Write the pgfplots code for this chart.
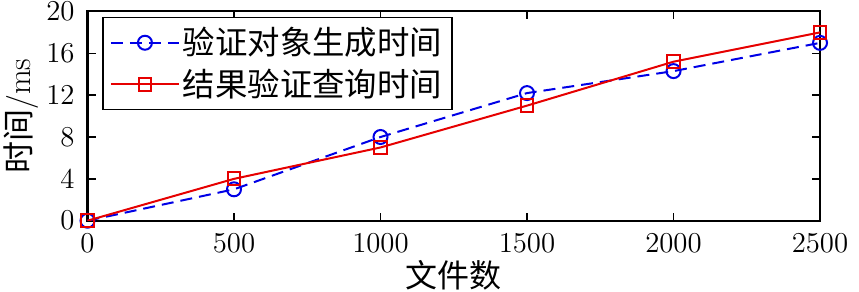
\documentclass[border=0pt]{standalone}
\usepackage{fontspec}
\usepackage{pgfplots}
\pgfplotsset{compat=1.18}
\newfontfamily\cjk{Noto Sans CJK SC}
\definecolor{mblue}{RGB}{0,0,230}
\definecolor{mred}{RGB}{230,0,0}
\begin{document}
\begin{tikzpicture}
\begin{axis}[
  scale only axis,
  width=366.25pt, height=104.6pt,
  xmin=0, xmax=2500, ymin=0, ymax=20,
  xtick={0,500,1000,1500,2000,2500},
  ytick={0,4,8,12,16,20},
  tick align=inside,
  major tick length=4pt,
  axis line style={line width=1pt},
  every tick/.style={black, line width=0.8pt},
  tick label style={font=\fontsize{15}{17}\selectfont, inner sep=0pt},
  yticklabel style={xshift=-6.25pt},
  xticklabel style={yshift=-6.5pt},
  scaled x ticks=false,
  xticklabel style={/pgf/number format/1000 sep={}},
  xlabel={{\cjk 文件数}},
  ylabel={{\cjk 时间}/ms},
  every axis x label/.style={at={(axis description cs:0.5,0)}, anchor=north, inner sep=0pt, yshift=-19.5pt, font=\fontsize{16}{18}\selectfont},
  every axis y label/.style={at={(axis description cs:0,0.5)}, anchor=south, inner sep=0pt, xshift=-24.2pt, rotate=90, font=\fontsize{16}{18}\selectfont},
  legend style={at={(0.02,0.975)}, anchor=north west, draw=black, line width=0.8pt,
    font=\fontsize{16.2}{18}\selectfont\cjk, inner xsep=3.5pt, inner ysep=3.5pt, row sep=2.5pt,
    nodes={inner sep=1.5pt}},
  legend cell align=left,
  legend image code/.code={\draw[mark repeat=2,mark phase=2] plot coordinates {(0pt,0pt) (17pt,0pt) (34pt,0pt)};},
]
\addplot[mblue, line width=1pt, dash pattern=on 6pt off 3.5pt, mark=o, mark size=3.5pt, mark options={solid, line width=1pt}]
  coordinates {(0,0) (500,3) (1000,8) (1500,12.2) (2000,14.3) (2500,17)};
\addlegendentry{验证对象生成时间}
\addplot[mred, line width=1pt, mark=square, mark size=3.2pt, mark options={solid, line width=1pt}]
  coordinates {(0,0) (500,4) (1000,7) (1500,11) (2000,15.2) (2500,18)};
\addlegendentry{结果验证查询时间}
\end{axis}
\pgfresetboundingbox
\path (current axis.south west) ++(-43.75pt,-35.65pt) coordinate (bba);
\path (current axis.north east) ++(19.5pt,5.75pt) coordinate (bbb);
\useasboundingbox (bba) rectangle (bbb);
\end{tikzpicture}
\end{document}
